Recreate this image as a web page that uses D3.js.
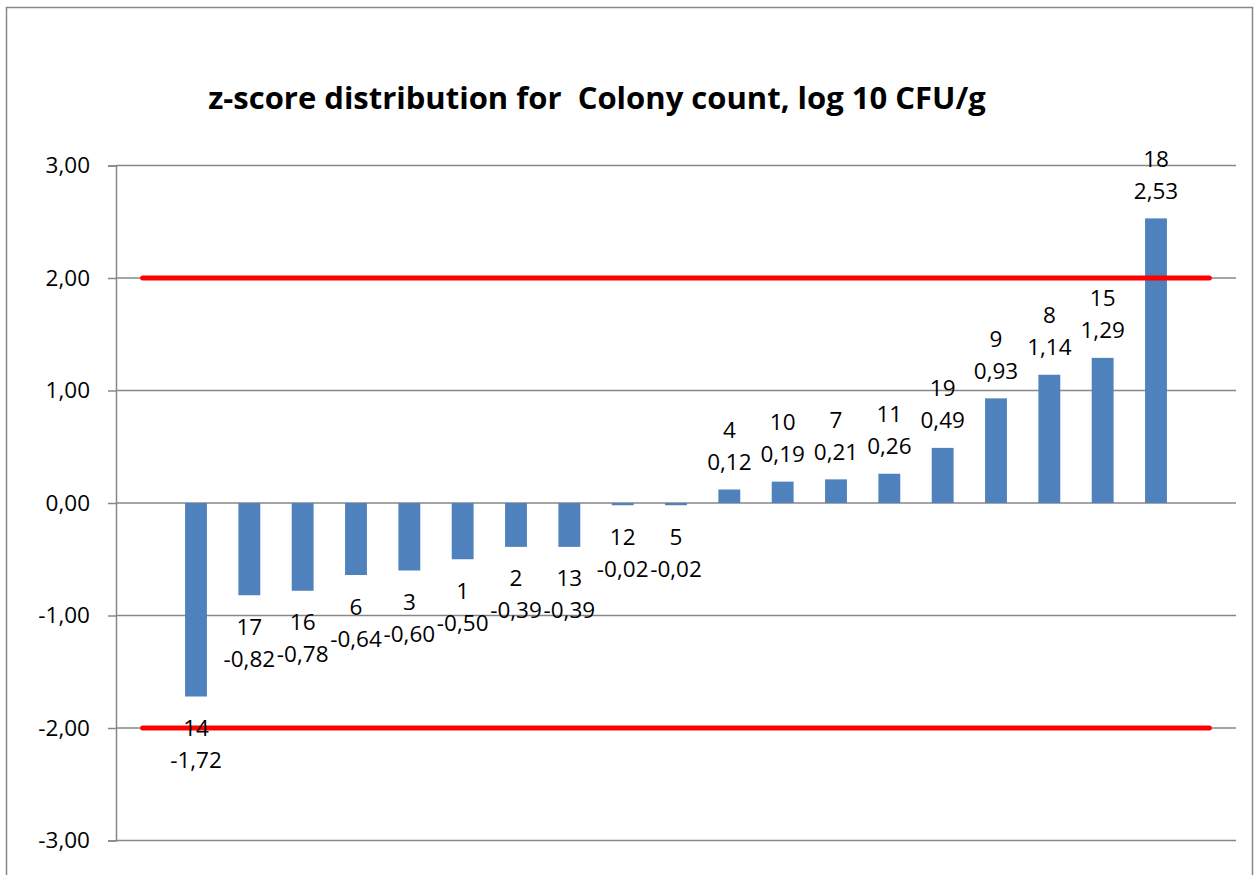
<!DOCTYPE html>
<html>
<head>
<meta charset="utf-8">
<script src="https://cdn.jsdelivr.net/npm/d3@7"></script>
<style>
  body { margin: 0; background: #fff; }
  svg text { font-family: "Open Sans", "Noto Sans", sans-serif; fill: #000; }
</style>
</head>
<body>
<svg id="chart" width="1256" height="875"></svg>
<script>
// lab numbers, sorted by z-score
const labs = [14, 17, 16, 6, 3, 1, 2, 13, 12, 5, 4, 10, 7, 11, 19, 9, 8, 15, 18];
const zScores = [-1.72, -0.82, -0.78, -0.64, -0.60, -0.50, -0.39, -0.39, -0.02, -0.02,
                 0.12, 0.19, 0.21, 0.26, 0.49, 0.93, 1.14, 1.29, 2.53];
const yTicks = [-3, -2, -1, 0, 1, 2, 3];
const limits = [-2, 2];
const title = 'z-score distribution for\u00a0 Colony count, log 10 CFU/g';

const width = 1256;
const height = 875;
const plot = {left: 116, right: 1236, top: 165.5, bottom: 840.5};

const locale = d3.formatLocale({decimal: ',', thousands: ' ', grouping: [3], currency: ['', ''], minus: '-'});
const fmt = locale.format('.2f');

const svg = d3.select('#chart');

// outer chart border (bottom edge is outside the picture)
svg.append('rect')
  .attr('x', 6.5)
  .attr('y', 7.5)
  .attr('width', 1246)
  .attr('height', 900)
  .attr('fill', 'none')
  .attr('stroke', '#878787')
  .attr('stroke-width', 1.5);

svg.append('text')
  .attr('x', 597)
  .attr('y', 109)
  .attr('text-anchor', 'middle')
  .style('font-size', '31px')
  .style('font-weight', 'bold')
  .text(title);

// one empty slot on each side, like the limit series in the original sheet
const x = d3.scaleBand()
  .domain(d3.range(labs.length + 2))
  .range([plot.left, plot.right])
  .paddingInner(0)
  .paddingOuter(0);

const y = d3.scaleLinear()
  .domain([-3, 3])
  .range([plot.bottom, plot.top]);

const barWidth = x.bandwidth() * 0.41;

// gridlines + ticks
const yAxis = d3.axisLeft(y)
  .tickValues(yTicks)
  .tickSize(8)
  .tickPadding(18)
  .tickFormat(fmt);

const axisG = svg.append('g')
  .attr('transform', `translate(${plot.left},0)`)
  .call(yAxis);

axisG.select('.domain')
  .attr('stroke', '#878787')
  .attr('stroke-width', 1.5);

axisG.selectAll('.tick line')
  .attr('stroke', '#878787')
  .attr('stroke-width', 1.5);

axisG.selectAll('.tick text')
  .style('font-size', '22.5px')
  .attr('fill', '#000');

svg.append('g')
  .selectAll('line')
  .data(yTicks)
  .join('line')
  .attr('x1', plot.left)
  .attr('x2', plot.right)
  .attr('y1', (d) => y(d))
  .attr('y2', (d) => y(d))
  .attr('stroke', '#878787')
  .attr('stroke-width', 1.5);

// bars
svg.append('g')
  .selectAll('rect')
  .data(zScores)
  .join('rect')
  .attr('x', (d, i) => x(i + 1) + (x.bandwidth() - barWidth) / 2)
  .attr('y', (d) => Math.min(y(d), y(0)))
  .attr('width', barWidth)
  .attr('height', (d) => Math.abs(y(d) - y(0)))
  .attr('fill', '#4F81BD');

// limit lines at +-2
svg.append('g')
  .selectAll('line')
  .data(limits)
  .join('line')
  .attr('x1', x(0) + x.bandwidth() / 2)
  .attr('x2', x(labs.length + 1) + x.bandwidth() / 2)
  .attr('y1', (d) => y(d))
  .attr('y2', (d) => y(d))
  .attr('stroke', '#FF0000')
  .attr('stroke-width', 5)
  .attr('stroke-linecap', 'round');

// data labels: lab number over the value
const labels = svg.append('g')
  .selectAll('g')
  .data(zScores)
  .join('g')
  .attr('transform', (d, i) => `translate(${x(i + 1) + x.bandwidth() / 2},${y(d)})`)
  .style('font-size', '22.5px');

labels.append('text')
  .attr('text-anchor', 'middle')
  .attr('dominant-baseline', 'central')
  .attr('y', (d) => d >= 0 ? -60 : 31)
  .text((d, i) => labs[i]);

labels.append('text')
  .attr('text-anchor', 'middle')
  .attr('dominant-baseline', 'central')
  .attr('y', (d) => d >= 0 ? -28 : 63)
  .text((d) => fmt(d));
</script>
</body>
</html>
